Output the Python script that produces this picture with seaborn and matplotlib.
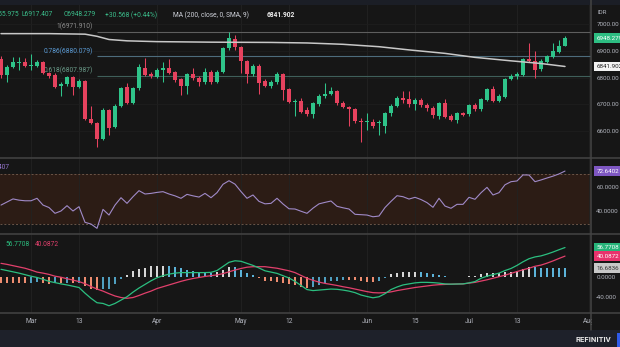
import numpy as np
import matplotlib
matplotlib.use("Agg")
import matplotlib.pyplot as plt
from matplotlib.patches import Rectangle
from matplotlib.lines import Line2D
from matplotlib.transforms import blended_transform_factory
import seaborn as sns

# ---------------- data ----------------
opens = [6871, 6810, 6841, 6854, 6857, 6843, 6845, 6860, 6816, 6810,
         6770, 6776, 6801, 6766, 6789, 6644, 6629, 6569, 6679, 6614,
         6694, 6764, 6706, 6760, 6837, 6814, 6803, 6829, 6835, 6820,
         6795, 6770, 6812, 6800, 6782, 6820, 6785, 6822, 6910, 6945,
         6914, 6864, 6812, 6845, 6789, 6770, 6782, 6814, 6756, 6708,
         6714, 6679, 6664, 6701, 6731, 6739, 6750, 6706, 6689, 6682,
         6639, 6633, 6635, 6630, 6619, 6666, 6695, 6722, 6720, 6701,
         6716, 6697, 6687, 6657, 6704, 6656, 6641, 6666, 6664, 6697,
         6681, 6716, 6756, 6714, 6729, 6794, 6808, 6810, 6869, 6864,
         6831, 6860, 6879, 6897, 6920]
highs = [6880, 6848, 6878, 6878, 6873, 6888, 6866, 6864, 6820, 6818,
         6785, 6808, 6806, 6795, 6792, 6694, 6635, 6685, 6684, 6700,
         6765, 6781, 6765, 6851, 6872, 6822, 6835, 6860, 6869, 6825,
         6800, 6818, 6836, 6805, 6835, 6830, 6828, 6915, 6970, 6960,
         6918, 6868, 6850, 6850, 6794, 6790, 6822, 6818, 6760, 6720,
         6722, 6690, 6710, 6740, 6779, 6765, 6755, 6712, 6695, 6688,
         6650, 6667, 6645, 6640, 6670, 6700, 6730, 6750, 6750, 6722,
         6722, 6705, 6692, 6710, 6720, 6662, 6670, 6672, 6700, 6705,
         6725, 6762, 6770, 6740, 6800, 6815, 6822, 6875, 6931, 6901,
         6870, 6886, 6929, 6941, 6955.975]
lows = [6800, 6785, 6835, 6829, 6840, 6830, 6840, 6812, 6800, 6760,
        6731, 6770, 6735, 6760, 6640, 6625, 6541, 6565, 6585, 6610,
        6690, 6700, 6700, 6755, 6805, 6800, 6798, 6785, 6812, 6785,
        6735, 6740, 6790, 6770, 6778, 6775, 6780, 6818, 6905, 6905,
        6818, 6780, 6808, 6738, 6765, 6762, 6778, 6718, 6705, 6656,
        6668, 6655, 6650, 6695, 6725, 6735, 6698, 6685, 6618, 6630,
        6560, 6604, 6610, 6585, 6592, 6655, 6690, 6705, 6690, 6680,
        6690, 6675, 6650, 6645, 6648, 6636, 6630, 6655, 6658, 6675,
        6675, 6712, 6708, 6708, 6725, 6790, 6795, 6805, 6860, 6797,
        6825, 6855, 6875, 6893, 6917.407]
closes = [6810, 6841, 6857, 6860, 6845, 6847, 6860, 6816, 6806, 6766,
          6776, 6801, 6766, 6789, 6644, 6629, 6569, 6679, 6612, 6694,
          6760, 6706, 6760, 6841, 6810, 6807, 6829, 6835, 6818, 6791,
          6770, 6812, 6797, 6782, 6820, 6782, 6822, 6910, 6947, 6914,
          6864, 6812, 6845, 6780, 6770, 6782, 6814, 6754, 6708, 6714,
          6672, 6664, 6704, 6731, 6739, 6750, 6704, 6689, 6681, 6639,
          6635, 6637, 6619, 6635, 6666, 6695, 6722, 6716, 6701, 6716,
          6697, 6685, 6660, 6704, 6653, 6641, 6666, 6660, 6697, 6681,
          6720, 6756, 6714, 6731, 6794, 6806, 6812, 6869, 6864, 6829,
          6864, 6881, 6900, 6919, 6948.279]

ma_idx = [0, 8, 14, 16, 18, 21, 26, 35, 45, 51, 57, 63, 68, 74, 79, 85, 90, 94]
ma_val = [6965, 6965, 6963, 6955, 6943, 6938, 6935, 6933, 6932, 6930,
          6925, 6916, 6904, 6891, 6876, 6863, 6853, 6841.902]

rsi = [45, 47.5, 50, 49, 48.5, 48.5, 50.5, 45, 43, 38.3,
       40.2, 44.5, 40.2, 43.7, 31, 29.6, 26.1, 41.5, 36.9, 45,
       51, 46.4, 51.8, 56.7, 54, 54.5, 55.3, 55.9, 54, 52.5,
       50.5, 53.7, 52.5, 51.5, 54.5, 51, 55.1, 61.9, 64.8, 62,
       56, 50.5, 53.2, 48, 46, 46.4, 50.5, 45.9, 42, 41.8,
       40, 38.3, 42.5, 46, 47.2, 48.3, 44, 42.8, 41.8, 37.5,
       37.2, 36.9, 35.5, 36.1, 43, 48, 52.6, 51.8, 49.9, 51.3,
       49.5, 47, 43.2, 50.5, 44.2, 42.4, 45.6, 45.6, 51.3, 49.7,
       55, 59.4, 53.2, 55.1, 61.5, 64, 64.6, 69.5, 69.4, 64,
       65.4, 67, 68.5, 70.3, 72.6402]

macd = [14.4, 12, 9.5, 7, 4, 1, -1.5, -5, -9, -11.5,
        -14, -16, -18.5, -21, -32, -42, -50.6, -52, -56.5, -52,
        -45.5, -39, -30, -22, -15, -8, -2, 2, 5, 7,
        8, 8, 8, 8, 8, 8.5, 12, 20, 28, 31,
        30, 26, 22, 17, 11.5, 9, 6.5, 2, -2.5, -9,
        -17, -25, -27, -26, -25, -24, -24.5, -26, -28, -31,
        -35.6, -38.5, -41, -39, -33, -25, -20, -16, -14, -12,
        -11, -11, -11.5, -12.5, -14, -14.5, -14.2, -14, -12, -9.5,
        -3, 1, 4, 7, 12, 16, 22, 29, 35, 38.5,
        40.5, 44, 48, 52.5, 56.7708]
signal = [26, 24, 21.5, 19, 16.5, 13, 9, 7, 4.5, 1,
          -1, -4, -6.5, -9.5, -13.5, -19, -24, -28, -33, -37.5,
          -40.5, -42, -40.5, -36.5, -32, -28, -23, -19.5, -16, -12.5,
          -9, -6, -3.5, -1.5, 0.5, 2, 3.5, 6, 9.5, 13,
          16, 18.5, 19.5, 19.5, 19.5, 18, 16.5, 14, 11.5, 8,
          2.5, -3, -7, -10.5, -13, -15, -17, -19.5, -21.5, -24,
          -26.5, -29, -31, -31.5, -31, -29.5, -27, -25, -23, -21,
          -19.5, -18, -16.5, -15.5, -15, -14.5, -14.2, -14, -12.5, -11,
          -8.5, -6, -3, 0, 3, 6.5, 10, 13.5, 16.5, 20.3,
          22.6, 26.4, 30.7, 35.5, 40.0872]

tick_idx = [5, 13, 26, 40, 48, 61, 69, 78, 86, 98]
tick_labels = ["Mar", "13", "Apr", "May", "12", "Jun", "15", "Jul", "13", "Aug"]
price_ticks = [6600, 6700, 6800, 6900, 7000]
fib_levels = [6971.910, 6880.079, 6807.987]
fib_names = ["1", "0.786", "0.618"]
rsi_ticks = [40, 60]
macd_ticks = [-40, 0]

# ---------------- style ----------------
BG = "#161616"
GRID = "#222222"
TXT = "#b2b5be"
UP = "#2fc48a"
DN = "#e6425e"
SEP = "#444444"

sns.set_theme(style="dark", rc={
    "axes.facecolor": BG, "figure.facecolor": BG, "grid.color": GRID,
    "text.color": TXT, "xtick.color": TXT, "ytick.color": TXT,
    "axes.edgecolor": BG})
plt.rcParams["font.family"] = ["Roboto", "DejaVu Sans"]

W, H = 620, 347
fig = plt.figure(figsize=(6.2, 3.47), dpi=100, facecolor=BG)


def box(x0, y0, x1, y1):
    return [x0 / W, 1 - y1 / H, (x1 - x0) / W, (y1 - y0) / H]


ax = fig.add_axes(box(0, 0, 591, 158))
axr = fig.add_axes(box(0, 158, 591, 234), sharex=ax)
axm = fig.add_axes(box(0, 234, 591, 313), sharex=ax)

for a in (ax, axr, axm):
    a.set_facecolor(BG)
    for s in a.spines.values():
        s.set_visible(False)
    a.yaxis.tick_right()
    a.tick_params(axis="both", length=0, labelsize=4.5, labelcolor=TXT)
    a.tick_params(axis="y", pad=3.8)
    a.grid(True, axis="x", color=GRID, lw=0.6, zorder=0)

ax.set_xlim(-1 / 6, 590 / 6)
ax.set_xticks(tick_idx)
ax.tick_params(axis="x", labelbottom=False)
axr.tick_params(axis="x", labelbottom=False)
axm.set_xticks(tick_idx)
axm.set_xticklabels(tick_labels)
axm.tick_params(axis="x", labelsize=4.8, pad=3.4)

# ---------------- main panel ----------------
n = len(closes)
idx = np.arange(n)
o = np.array(opens, float)
c = np.array(closes, float)
h = np.array(highs, float)
l = np.array(lows, float)
cols = [UP if cc >= oo else DN for oo, cc in zip(o, c)]

ax.set_ylim(6498.7, 7091.1)
ax.set_yticks(price_ticks)
ax.set_yticklabels([f"{p:.2f}" for p in price_ticks])
ax.grid(True, axis="y", color="#1e1e1e", lw=0.6, zorder=0)

fib_line_cols = ["#5e5e5e", "#4d6c7c", "#3f5f5a"]
fib_txt_cols = ["#8e8e8e", "#5b9bd5", "#6a9a88"]
for lev, name, lc, tc in zip(fib_levels, fib_names, fib_line_cols, fib_txt_cols):
    ax.hlines(lev, 16, 98.4, color=lc, lw=0.8, zorder=1)
    ax.text(15.35, lev + 5, f"{name}({lev:.3f})", color=tc, fontsize=4.8,
            ha="right", va="bottom", zorder=2)

ax.vlines(idx, l, h, color=cols, lw=0.75, zorder=3)
ax.bar(idx, np.maximum(np.abs(c - o), 2.5), bottom=np.minimum(o, c),
       width=0.68, color=cols, linewidth=0, zorder=4)

sns.lineplot(x=ma_idx, y=ma_val, ax=ax, color="#c8c8c8", lw=1.1, zorder=5)

trans = blended_transform_factory(ax.transAxes, ax.transData)
ax.text(1 + 5.5 / 591, closes[-1], f"{closes[-1]:.3f}", transform=trans,
        fontsize=4.5, color="white", ha="left", va="center",
        bbox=dict(boxstyle="square,pad=0.35", fc="#2dbd82", ec="none"))
ax.text(1 + 5.5 / 591, ma_val[-1], f"{ma_val[-1]:.3f}", transform=trans,
        fontsize=4.5, color="#222222", ha="left", va="center",
        bbox=dict(boxstyle="square,pad=0.35", fc="#f2f2f2", ec="none"))

# ---------------- RSI panel ----------------
axr.set_ylim(21.5, 83.25)
axr.axhspan(30, 70, color="#2c1c15", zorder=0, lw=0)
for lv in (70, 30):
    axr.axhline(lv, color="#6b5548", lw=0.7, ls=(0, (2, 2)), zorder=1)
sns.lineplot(x=idx, y=rsi, ax=axr, color="#a08ac8", lw=0.8, zorder=3)
axr.set_yticks(rsi_ticks)
axr.set_yticklabels([f"{v:.4f}" for v in rsi_ticks])
trans_r = blended_transform_factory(axr.transAxes, axr.transData)
axr.text(1 + 5.5 / 591, rsi[-1], f"{rsi[-1]:.4f}", transform=trans_r,
         fontsize=4.5, color="white", ha="left", va="center",
         bbox=dict(boxstyle="square,pad=0.35", fc="#7e57c2", ec="none"))

# ---------------- MACD panel ----------------
axm.set_ylim(-70.6, 83.1)
mc = np.array(macd)
sg = np.array(signal)
hist = mc - sg
hcols = []
for i, hv in enumerate(hist):
    prev = hist[i - 1] if i > 0 else hv
    if hv >= 0:
        hcols.append("#d6d6d6" if hv >= prev else "#5cb3d9")
    else:
        hcols.append("#ee8d70" if hv <= prev else "#4f9fc0")
axm.bar(idx, hist, width=0.32, color=hcols, linewidth=0, zorder=2)
sns.lineplot(x=idx, y=signal, ax=axm, color="#e2406c", lw=0.9, zorder=3)
sns.lineplot(x=idx, y=macd, ax=axm, color="#2bbf80", lw=0.9, zorder=4)
axm.set_yticks(macd_ticks)
axm.set_yticklabels(["-40.000", "0.0000"])
trans_m = blended_transform_factory(axm.transAxes, axm.transData)
for val, fc, tc in ((macd[-1], "#27b47a", "white"),
                    (signal[-1], "#e8336d", "white"),
                    (hist[-1], "#c8c8c8", "#333333")):
    axm.text(1 + 5.5 / 591, val, f"{val:.4f}", transform=trans_m,
             fontsize=4.5, color=tc, ha="left", va="center",
             bbox=dict(boxstyle="square,pad=0.35", fc=fc, ec="none"))

for a in (ax, axr, axm):
    a.set_xlabel("")
    a.set_ylabel("")


# ---------------- figure decorations ----------------
def fx(x):
    return x / W


def fy(y):
    return 1 - y / H


fig.add_artist(Rectangle((0, fy(5)), 1, 5 / H, transform=fig.transFigure,
                         fc="#1b1e26", ec="none", zorder=6))
fig.add_artist(Rectangle((fx(591.5), fy(330)), (620 - 591.5) / W, 17 / H,
                         transform=fig.transFigure, fc=BG, ec="none", zorder=6))
fig.add_artist(Rectangle((0, 0), 1, 17 / H, transform=fig.transFigure,
                         fc="#1e212a", ec="none", zorder=6))
fig.add_artist(Rectangle((fx(617), 0), 3 / W, 14 / H, transform=fig.transFigure,
                         fc="#2f5bea", ec="none", zorder=7))
for yy in (158, 234, 313):
    fig.add_artist(Line2D([0, 1], [fy(yy), fy(yy)], transform=fig.transFigure,
                          color=SEP, lw=1.1, zorder=7))
fig.add_artist(Line2D([fx(591), fx(591)], [fy(330), 1], transform=fig.transFigure,
                      color=SEP, lw=1.1, zorder=7))

GRN = "#3bbf8c"
hdr_y = fy(15)
fig.text(fx(19), hdr_y, "H6955.975", color=GRN, fontsize=4.8, ha="right", va="center", zorder=8)
fig.text(fx(21.5), hdr_y, "L6917.407", color=GRN, fontsize=4.8, va="center", zorder=8)
fig.text(fx(64), hdr_y, "C6948.279", color=GRN, fontsize=4.8, va="center", zorder=8)
fig.text(fx(105), hdr_y, "+30.568 (+0.44%)", color=GRN, fontsize=4.8, va="center", zorder=8)
fig.text(fx(173), hdr_y, "MA (200, close, 0, SMA, 9)", color="#d1d4dc", fontsize=4.8,
         va="center", zorder=8)
fig.text(fx(267), hdr_y, "6841.902", color="#eeeeee", fontsize=4.8, va="center",
         fontweight="bold", zorder=8)
fig.text(fx(597), fy(13), "IDR", color=TXT, fontsize=4.5, va="center", zorder=8)

fig.text(fx(9.5), fy(167.7), "72.6407", color="#9575cd", fontsize=4.8,
         ha="right", va="center", zorder=8)
fig.text(fx(5), fy(245), "56.7708", color="#2bbf80", fontsize=4.8, va="center", zorder=8)
fig.text(fx(35), fy(245), "40.0872", color="#e2406c", fontsize=4.8, va="center", zorder=8)

fig.text(fx(593), fy(339.5), "REFINITIV", color="#e6e6e6", fontsize=5.6,
         fontweight="bold", ha="center", va="center", zorder=8)

fig.savefig("out.png", dpi=100, facecolor=BG)
